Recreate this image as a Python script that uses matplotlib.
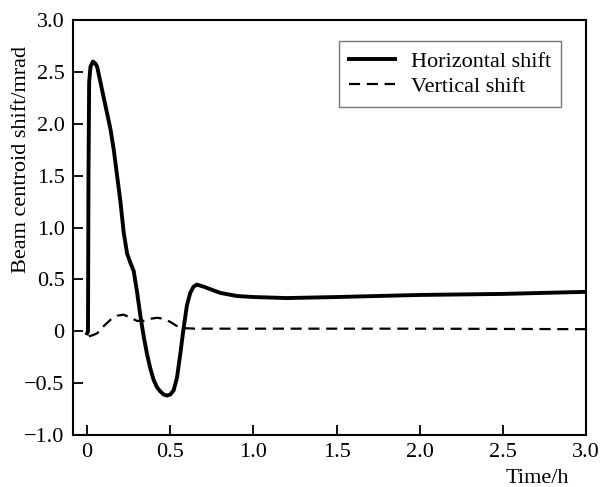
import numpy as np
import matplotlib.pyplot as plt
from matplotlib.ticker import FuncFormatter

# Horizontal shift
t_h = [0, 0.005, 0.008, 0.012, 0.02, 0.035, 0.05, 0.06, 0.08, 0.10, 0.12, 0.14, 0.16,
       0.18, 0.20, 0.22, 0.24, 0.26, 0.28, 0.30, 0.32, 0.34, 0.36, 0.38, 0.40, 0.42,
       0.44, 0.46, 0.48, 0.50, 0.52, 0.54, 0.56, 0.58, 0.60, 0.62, 0.64, 0.66, 0.70,
       0.75, 0.80, 0.90, 1.0, 1.2, 1.5, 2.0, 2.5, 3.0]
v_h = [-0.02, 0.0, 1.5, 2.4, 2.55, 2.6, 2.58, 2.55, 2.4, 2.25, 2.1, 1.95, 1.75,
       1.5, 1.25, 0.95, 0.75, 0.66, 0.58, 0.38, 0.15, -0.05, -0.22, -0.36, -0.47, -0.54,
       -0.58, -0.61, -0.62, -0.61, -0.57, -0.45, -0.22, 0.03, 0.25, 0.37, 0.43, 0.45, 0.43,
       0.40, 0.37, 0.34, 0.33, 0.32, 0.33, 0.35, 0.36, 0.38]

# Vertical shift
t_v = [0.01, 0.03, 0.06, 0.10, 0.14, 0.18, 0.22, 0.26, 0.30, 0.34, 0.38, 0.42, 0.46,
       0.50, 0.54, 0.58, 0.65, 1.0, 2.0, 3.0]
v_v = [-0.05, -0.04, -0.02, 0.05, 0.11, 0.15, 0.16, 0.13, 0.10, 0.10, 0.12, 0.13, 0.12,
       0.09, 0.05, 0.03, 0.025, 0.025, 0.025, 0.02]

plt.rcParams['font.family'] = ['Liberation Serif', 'DejaVu Serif']

fig = plt.figure(figsize=(6, 4.87), dpi=100)
ax = fig.add_axes([0.1217, 0.1068, 0.855, 0.852])

ax.plot(t_h, v_h, color='black', lw=2.8, label='Horizontal shift')
ax.plot(t_v, v_v, color='black', lw=1.6, dashes=(5, 3), label='Vertical shift')

ax.set_xlim(-0.085, 3.0)
ax.set_ylim(-1.0, 3.0)
ax.set_xticks(np.arange(0, 3.01, 0.5))
ax.set_yticks(np.arange(-1.0, 3.01, 0.5))

def fmt(v, pos):
    if abs(v) < 1e-9:
        return '0'
    return ('%.1f' % v).replace('-', '\u2212')

ax.xaxis.set_major_formatter(FuncFormatter(fmt))
ax.yaxis.set_major_formatter(FuncFormatter(fmt))
ax.tick_params(direction='in', length=7, width=1.3, labelsize=16, pad=6, colors='black')
for s in ax.spines.values():
    s.set_linewidth(1.5)

ax.set_ylabel('Beam centroid shift/mrad', fontsize=16)
ax.yaxis.set_label_coords(-0.082, 0.663)
fig.text(537 / 600, 4 / 487, 'Time/h', fontsize=16, ha='center', va='baseline')

leg = ax.legend(loc='upper right', bbox_to_anchor=(0.951, 0.949), fontsize=16,
                frameon=True, fancybox=False, edgecolor='#555555', handlelength=2.1,
                borderpad=0.45, labelspacing=0.2, handletextpad=0.7, borderaxespad=0)
leg.get_frame().set_linewidth(1.0)

fig.savefig('out.png', dpi=100)
